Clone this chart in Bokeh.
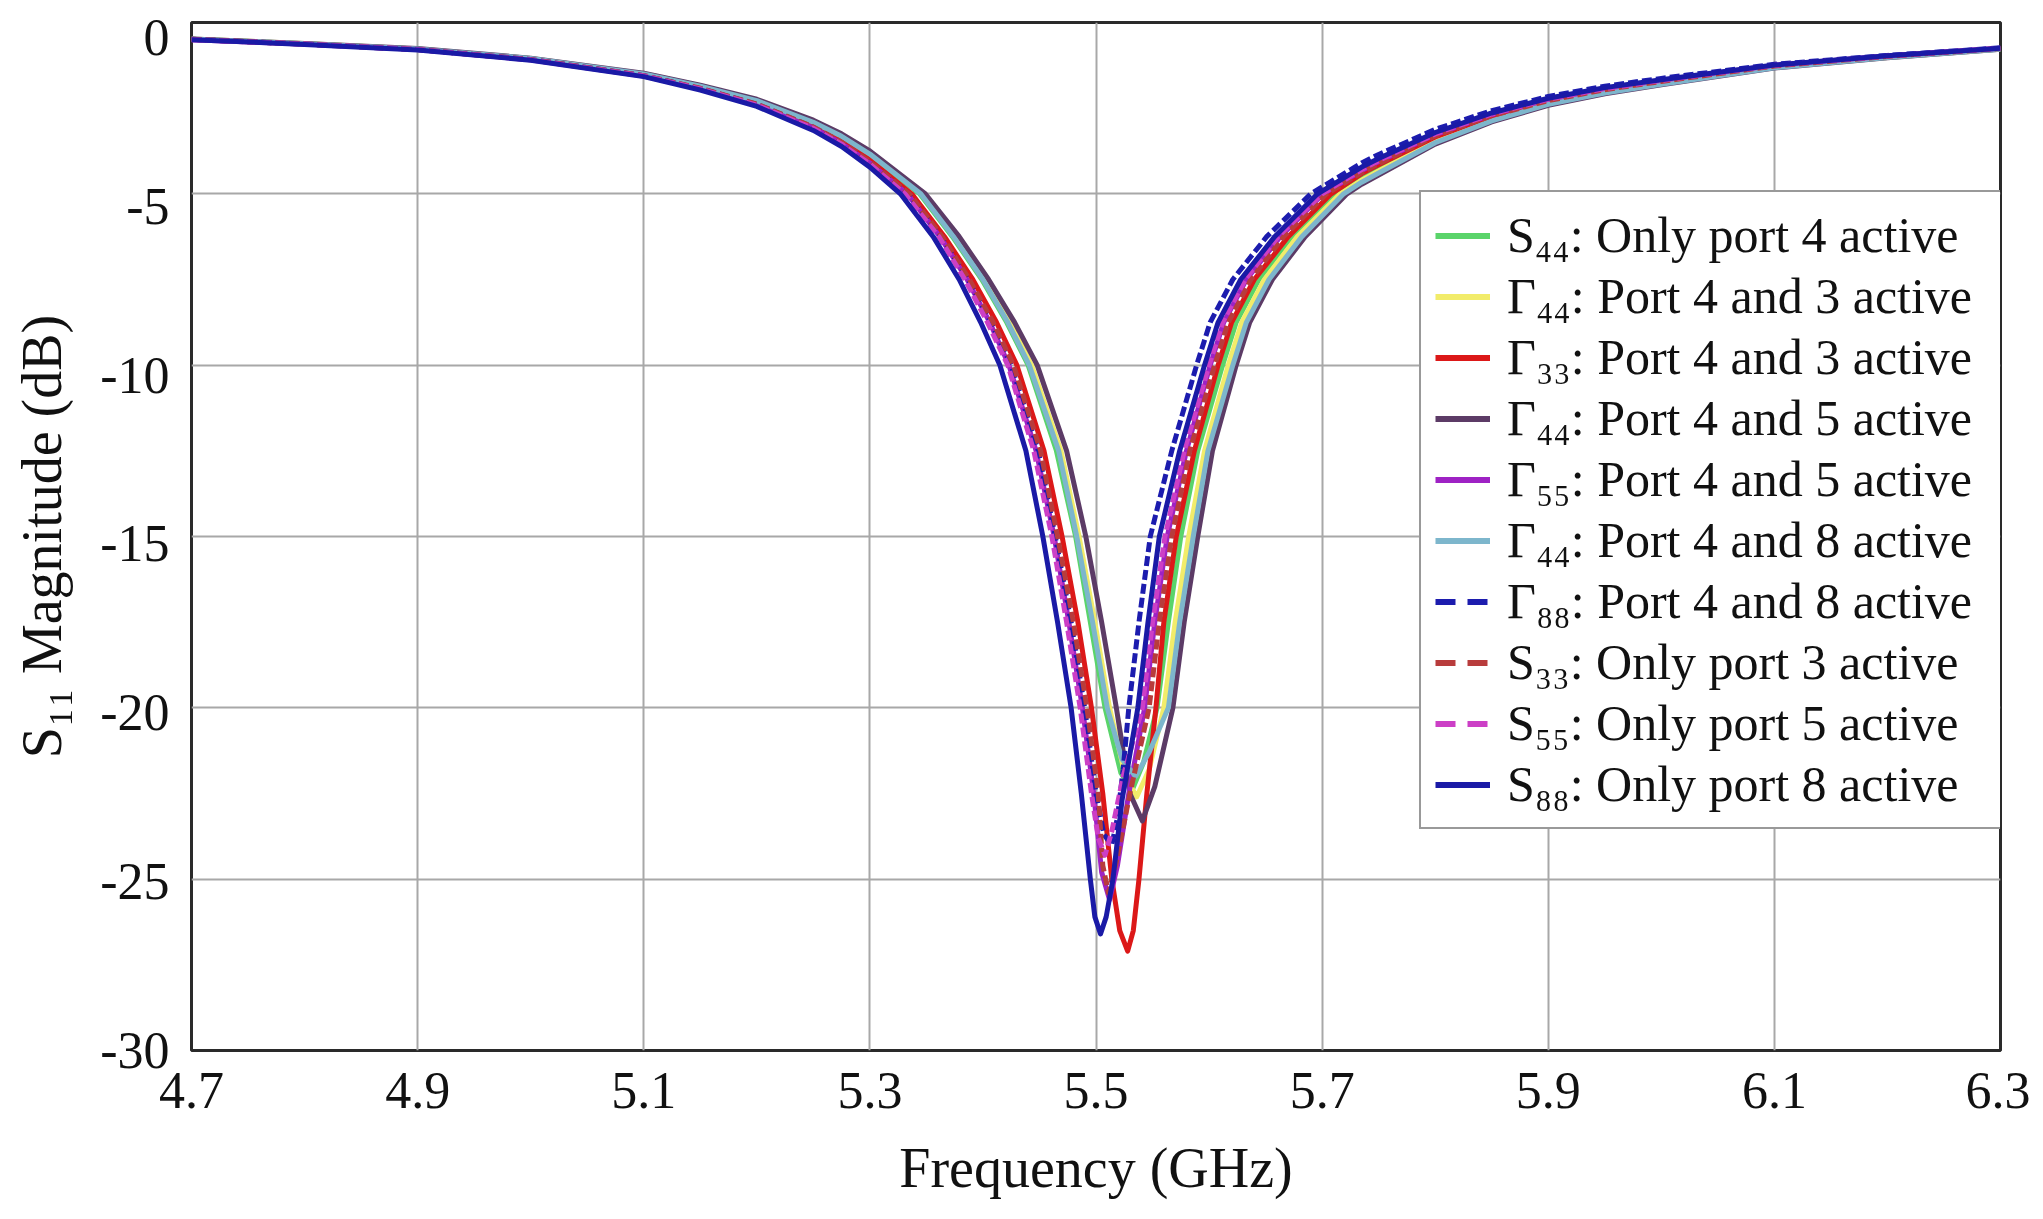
from bokeh.plotting import figure
from bokeh.models import Range1d, FixedTicker, Legend, LegendItem, LinearAxis
from bokeh.embed import file_html
from bokeh.resources import INLINE

# ---------------- data ----------------
x_ticks = [4.7, 4.9, 5.1, 5.3, 5.5, 5.7, 5.9, 6.1, 6.3]
x_tick_labels = ["4.7", "4.9", "5.1", "5.3", "5.5", "5.7", "5.9", "6.1", "6.3"]
y_ticks = [0, -5, -10, -15, -20, -25, -30]
y_tick_labels = ["0", "-5", "-10", "-15", "-20", "-25", "-30"]

series_labels = [
    "S\u2084\u2084: Only port 4 active",
    "\u0393\u2084\u2084: Port 4 and 3 active",
    "\u0393\u2083\u2083: Port 4 and 3 active",
    "\u0393\u2084\u2084: Port 4 and 5 active",
    "\u0393\u2085\u2085: Port 4 and 5 active",
    "\u0393\u2084\u2084: Port 4 and 8 active",
    "\u0393\u2088\u2088: Port 4 and 8 active",
    "S\u2083\u2083: Only port 3 active",
    "S\u2085\u2085: Only port 5 active",
    "S\u2088\u2088: Only port 8 active",
]

# frequencies (GHz) shared by the flat skirts of every trace
freq_left_skirt = [4.70, 4.80, 4.90, 5.00, 5.10, 5.15, 5.20, 5.25, 5.275, 5.30]
freq_right_skirt = [5.735, 5.75, 5.80, 5.85, 5.90, 5.95, 6.00, 6.10, 6.20, 6.30]

# S44: Only port 4 active
freq_s44 = freq_left_skirt + [5.344, 5.373, 5.399, 5.421, 5.440, 5.465, 5.482, 5.495, 5.508,
                              5.522, 5.532, 5.542,
                              5.554, 5.564, 5.575, 5.590, 5.612, 5.624, 5.644, 5.673, 5.711] + freq_right_skirt
db_s44 = [-0.49, -0.62, -0.77, -1.06, -1.51, -1.87, -2.29, -2.93, -3.34, -3.87,
          -5.0, -6.25, -7.5, -8.75, -10.0, -12.5, -15.0, -17.5, -20.0,
          -21.9, -22.4, -21.6,
          -20.0, -17.5, -15.0, -12.5, -10.0, -8.75, -7.5, -6.25, -5.0,
          -4.50, -4.24, -3.40, -2.78, -2.33, -2.00, -1.75, -1.29, -1.01, -0.77]

# Gamma44: Port 4 and 3 active
freq_g44_43 = freq_left_skirt + [5.346, 5.376, 5.401, 5.424, 5.443, 5.469, 5.485, 5.499, 5.512,
                                 5.526, 5.536, 5.547,
                                 5.560, 5.570, 5.582, 5.596, 5.617, 5.629, 5.649, 5.678, 5.716] + freq_right_skirt
db_g44_43 = [-0.48, -0.61, -0.77, -1.05, -1.50, -1.85, -2.27, -2.90, -3.31, -3.82,
             -5.0, -6.25, -7.5, -8.75, -10.0, -12.5, -15.0, -17.5, -20.0,
             -22.0, -22.6, -21.8,
             -20.0, -17.5, -15.0, -12.5, -10.0, -8.75, -7.5, -6.25, -5.0,
             -4.60, -4.33, -3.46, -2.83, -2.37, -2.04, -1.78, -1.31, -1.02, -0.77]

# Gamma33: Port 4 and 3 active
freq_g33_43 = freq_left_skirt + [5.337, 5.366, 5.391, 5.412, 5.430, 5.454, 5.470, 5.484, 5.496, 5.506,
                                 5.514, 5.521, 5.528, 5.533, 5.538, 5.545, 5.553,
                                 5.560, 5.571, 5.587, 5.608, 5.620, 5.640, 5.670, 5.708] + freq_right_skirt
db_g33_43 = [-0.49, -0.63, -0.78, -1.07, -1.54, -1.91, -2.36, -3.02, -3.45, -4.01,
             -5.0, -6.25, -7.5, -8.75, -10.0, -12.5, -15.0, -17.5, -20.0, -22.5,
             -25.0, -26.5, -27.1, -26.5, -25.0, -22.5, -20.0,
             -17.5, -15.0, -12.5, -10.0, -8.75, -7.5, -6.25, -5.0,
             -4.41, -4.15, -3.34, -2.74, -2.29, -1.97, -1.73, -1.28, -1.00, -0.76]

# Gamma44: Port 4 and 5 active
freq_g44_45 = freq_left_skirt + [5.349, 5.379, 5.405, 5.428, 5.448, 5.474, 5.491, 5.505, 5.518, 5.530,
                                 5.541, 5.552,
                                 5.568, 5.578, 5.590, 5.603, 5.624, 5.636, 5.656, 5.685, 5.722] + freq_right_skirt
db_g44_45 = [-0.48, -0.61, -0.76, -1.04, -1.48, -1.83, -2.24, -2.85, -3.25, -3.75,
             -5.0, -6.25, -7.5, -8.75, -10.0, -12.5, -15.0, -17.5, -20.0, -22.5,
             -23.3, -22.3,
             -20.0, -17.5, -15.0, -12.5, -10.0, -8.75, -7.5, -6.25, -5.0,
             -4.72, -4.45, -3.55, -2.90, -2.42, -2.08, -1.82, -1.33, -1.03, -0.78]

# Gamma55: Port 4 and 5 active
freq_g55_45 = freq_left_skirt + [5.333, 5.362, 5.386, 5.406, 5.423, 5.447, 5.463, 5.476, 5.488, 5.498,
                                 5.505, 5.512, 5.519, 5.529,
                                 5.543, 5.552, 5.563, 5.580, 5.601, 5.613, 5.633, 5.663, 5.701] + freq_right_skirt
db_g55_45 = [-0.50, -0.63, -0.79, -1.09, -1.56, -1.94, -2.40, -3.08, -3.53, -4.10,
             -5.0, -6.25, -7.5, -8.75, -10.0, -12.5, -15.0, -17.5, -20.0, -22.5,
             -24.8, -25.6, -24.6, -22.5,
             -20.0, -17.5, -15.0, -12.5, -10.0, -8.75, -7.5, -6.25, -5.0,
             -4.32, -4.06, -3.27, -2.69, -2.25, -1.94, -1.70, -1.26, -0.98, -0.75]

# Gamma44: Port 4 and 8 active
freq_g44_48 = freq_left_skirt + [5.345, 5.374, 5.400, 5.422, 5.441, 5.467, 5.483, 5.497, 5.510,
                                 5.523, 5.535, 5.547,
                                 5.564, 5.574, 5.586, 5.599, 5.621, 5.633, 5.653, 5.682, 5.719] + freq_right_skirt
db_g44_48 = [-0.48, -0.62, -0.77, -1.05, -1.50, -1.86, -2.28, -2.91, -3.32, -3.84,
             -5.0, -6.25, -7.5, -8.75, -10.0, -12.5, -15.0, -17.5, -20.0,
             -21.5, -22.0, -21.3,
             -20.0, -17.5, -15.0, -12.5, -10.0, -8.75, -7.5, -6.25, -5.0,
             -4.66, -4.39, -3.51, -2.87, -2.39, -2.06, -1.80, -1.32, -1.02, -0.78]

# Gamma88: Port 4 and 8 active
freq_g88_48 = freq_left_skirt + [5.334, 5.363, 5.387, 5.407, 5.425, 5.449, 5.464, 5.478, 5.490, 5.500,
                                 5.507, 5.514, 5.519, 5.524,
                                 5.529, 5.538, 5.548, 5.567, 5.589, 5.601, 5.621, 5.651, 5.690] + freq_right_skirt
db_g88_48 = [-0.49, -0.63, -0.79, -1.08, -1.55, -1.93, -2.39, -3.06, -3.51, -4.08,
             -5.0, -6.25, -7.5, -8.75, -10.0, -12.5, -15.0, -17.5, -20.0, -22.5,
             -23.7, -24.0, -23.2, -21.8,
             -20.0, -17.5, -15.0, -12.5, -10.0, -8.75, -7.5, -6.25, -5.0,
             -4.10, -3.85, -3.12, -2.57, -2.16, -1.86, -1.63, -1.22, -0.96, -0.74]

# S33: Only port 3 active
freq_s33 = freq_left_skirt + [5.335, 5.364, 5.388, 5.409, 5.427, 5.451, 5.466, 5.480, 5.492, 5.502,
                              5.506, 5.511, 5.518, 5.530,
                              5.547, 5.556, 5.567, 5.583, 5.605, 5.617, 5.637, 5.666, 5.704] + freq_right_skirt
db_s33 = [-0.49, -0.63, -0.79, -1.08, -1.55, -1.92, -2.38, -3.05, -3.49, -4.06,
          -5.0, -6.25, -7.5, -8.75, -10.0, -12.5, -15.0, -17.5, -20.0, -22.5,
          -24.6, -25.4, -24.5, -22.5,
          -20.0, -17.5, -15.0, -12.5, -10.0, -8.75, -7.5, -6.25, -5.0,
          -4.38, -4.12, -3.31, -2.72, -2.28, -1.96, -1.72, -1.27, -0.99, -0.76]

# S55: Only port 5 active
freq_s55 = freq_left_skirt + [5.331, 5.361, 5.384, 5.404, 5.422, 5.445, 5.461, 5.474, 5.486, 5.496,
                              5.502, 5.508, 5.514, 5.524,
                              5.541, 5.550, 5.561, 5.578, 5.600, 5.612, 5.632, 5.661, 5.700] + freq_right_skirt
db_s55 = [-0.50, -0.63, -0.79, -1.09, -1.56, -1.94, -2.41, -3.09, -3.55, -4.13,
          -5.0, -6.25, -7.5, -8.75, -10.0, -12.5, -15.0, -17.5, -20.0, -22.5,
          -23.8, -24.3, -23.6, -22.0,
          -20.0, -17.5, -15.0, -12.5, -10.0, -8.75, -7.5, -6.25, -5.0,
          -4.29, -4.03, -3.25, -2.67, -2.24, -1.93, -1.69, -1.25, -0.98, -0.75]

# S88: Only port 8 active
freq_s88 = freq_left_skirt + [5.327, 5.356, 5.379, 5.398, 5.415, 5.438, 5.453, 5.466, 5.478, 5.487, 5.495,
                              5.499, 5.504, 5.509, 5.515, 5.523,
                              5.537, 5.546, 5.556, 5.574, 5.596, 5.608, 5.628, 5.658, 5.696] + freq_right_skirt
db_s88 = [-0.50, -0.64, -0.80, -1.10, -1.58, -1.97, -2.45, -3.15, -3.62, -4.22,
          -5.0, -6.25, -7.5, -8.75, -10.0, -12.5, -15.0, -17.5, -20.0, -22.5, -25.0,
          -26.1, -26.6, -26.1, -25.0, -22.7,
          -20.0, -17.5, -15.0, -12.5, -10.0, -8.75, -7.5, -6.25, -5.0,
          -4.22, -3.97, -3.21, -2.64, -2.21, -1.90, -1.67, -1.24, -0.97, -0.75]

series_freq = [freq_s44, freq_g44_43, freq_g33_43, freq_g44_45, freq_g55_45,
               freq_g44_48, freq_g88_48, freq_s33, freq_s55, freq_s88]
series_db = [db_s44, db_g44_43, db_g33_43, db_g44_45, db_g55_45,
             db_g44_48, db_g88_48, db_s33, db_s55, db_s88]

# ---------------- styles / layout ----------------
series_colors = ["#5ad46a", "#f2ec6a", "#dc1818", "#5c3b66", "#9e22c4",
                 "#7db6cc", "#1c1cae", "#b83c3c", "#cc3fc6", "#1a1aa6"]
series_dashed = [False, False, False, False, False, False, True, True, True, False]

FONT = "Liberation Serif"
NAN = float("nan")
Y_MIN, Y_MAX = -30, 0
# the reference prints its upper y tick labels a little below their grid lines;
# a slightly taller range for the label axis reproduces that drift
label_top_extra_db = 0.44

p = figure(width=2030, height=1215,
           x_range=Range1d(4.7, 6.3), y_range=Range1d(Y_MIN, Y_MAX),
           y_axis_location=None,
           output_backend="svg", toolbar_location=None,
           min_border_left=191, min_border_right=30,
           min_border_top=22, min_border_bottom=165)
p.extra_y_ranges = {"ticklabels": Range1d(Y_MIN - 0.001, Y_MAX + label_top_extra_db)}

p.background_fill_color = "white"
p.border_fill_color = "white"
p.outline_line_color = "#2a2a2a"
p.outline_line_width = 3

xt = FixedTicker(ticks=x_ticks)
yt = FixedTicker(ticks=y_ticks)
p.xaxis.ticker = xt
p.xgrid.ticker = xt
p.ygrid.ticker = yt
p.xaxis.major_label_overrides = {t: l for t, l in zip(x_ticks, x_tick_labels)}

yaxis = LinearAxis(y_range_name="ticklabels", ticker=FixedTicker(ticks=y_ticks),
                   major_label_overrides={t: l for t, l in zip(y_ticks, y_tick_labels)})
p.add_layout(yaxis, "left")

p.grid.grid_line_color = "#a8a8a8"
p.grid.grid_line_width = 2

for ax in (p.xaxis[0], yaxis):
    ax.axis_line_color = None
    ax.major_tick_line_color = None
    ax.minor_tick_line_color = None
    ax.major_tick_out = 0
    ax.major_tick_in = 0
    ax.major_label_text_font = FONT
    ax.major_label_text_font_size = "52px"
    ax.major_label_text_color = "#111111"
    ax.axis_label_text_font = FONT
    ax.axis_label_text_font_size = "56px"
    ax.axis_label_text_font_style = "normal"
    ax.axis_label_text_color = "#111111"

p.xaxis.axis_label = "Frequency (GHz)"
yaxis.axis_label = "S\u2081\u2081 Magnitude (dB)"
p.xaxis.major_label_standoff = 22
p.xaxis.axis_label_standoff = 26
yaxis.major_label_standoff = 22
yaxis.axis_label_standoff = 24

for f, d, c, dashed in zip(series_freq, series_db, series_colors, series_dashed):
    p.line(f, d, line_color=c, line_width=5,
           line_dash=("10 4" if dashed else "solid"), line_join="round")

items = []
for lab, c, dashed in zip(series_labels, series_colors, series_dashed):
    r = p.line([NAN], [NAN], line_color=c, line_width=6,
               line_dash=("20 12" if dashed else "solid"))
    items.append(LegendItem(label=lab, renderers=[r]))

legend = Legend(items=items, location=(1228, 221),
                padding=14, spacing=3, margin=0,
                glyph_width=55, glyph_height=57,
                label_height=57, label_width=482, label_standoff=17,
                label_text_font=FONT, label_text_font_size="50px",
                label_text_color="#111111",
                border_line_color="#333333", border_line_width=2,
                background_fill_color="white", background_fill_alpha=1.0)
p.add_layout(legend)

open("out.html", "w").write(file_html(p, INLINE))
